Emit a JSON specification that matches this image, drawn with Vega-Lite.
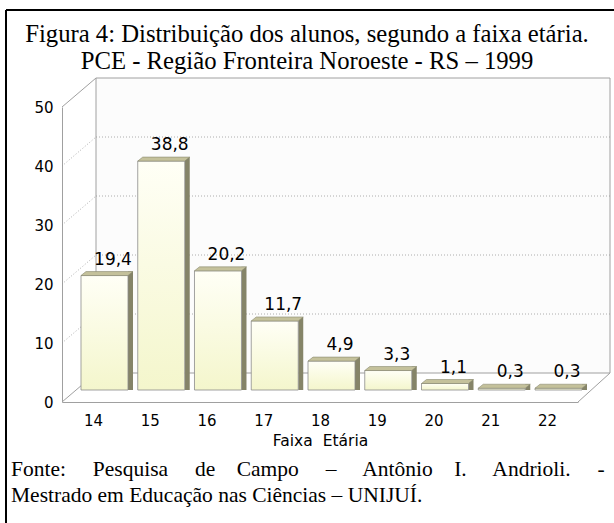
{
  "$schema": "https://vega.github.io/schema/vega-lite/v6.json",
  "autosize": {"type": "pad"},
  "padding": {"left": 5, "top": 9, "right": 0, "bottom": 0},
  "background": "white",
  "title": {
    "text": ["Figura 4: Distribuição dos alunos, segundo a faixa etária.", "PCE - Região Fronteira Noroeste - RS – 1999"],
    "font": "Liberation Serif", "fontSize": 24.7, "fontWeight": "normal", "color": "black",
    "lineHeight": 27, "anchor": "middle", "offset": -65, "dx": -3
  },
  "datasets": {
    "faixa": [
      {"idade": 14, "pct": 19.4}, {"idade": 15, "pct": 38.8}, {"idade": 16, "pct": 20.2},
      {"idade": 17, "pct": 11.7}, {"idade": 18, "pct": 4.9}, {"idade": 19, "pct": 3.3},
      {"idade": 20, "pct": 1.1}, {"idade": 21, "pct": 0.3}, {"idade": 22, "pct": 0.3}
    ],
    "grade": [{"v": 0}, {"v": 10}, {"v": 20}, {"v": 30}, {"v": 40}, {"v": 50}],
    "um": [{"k": 1}]
  },
  "vconcat": [
    {
      "width": 516,
      "height": 295,
      "title": {
        "text": ["Fonte:\u00a0\u00a0\u00a0\u00a0 Pesquisa\u00a0\u00a0\u00a0\u00a0 de\u00a0\u00a0\u00a0 Campo\u00a0\u00a0\u00a0\u00a0 –\u00a0\u00a0\u00a0\u00a0 Antônio\u00a0\u00a0\u00a0 I.\u00a0\u00a0\u00a0\u00a0 Andrioli.\u00a0\u00a0\u00a0\u00a0 -", "Mestrado em Educação nas Ciências – UNIJUÍ."],
        "orient": "bottom", "anchor": "start",
        "font": "Liberation Serif", "fontSize": 21.5, "fontWeight": "normal", "color": "black",
        "lineHeight": 26, "offset": -65, "dx": 6
      },
      "layer": [
        {
          "data": {"name": "um"},
          "mark": {"type": "rule", "stroke": "black", "strokeWidth": 2},
          "encoding": {
            "x": {"value": -56},
            "y": {"value": -97}, "y2": {"value": 416}
          }
        },
        {
          "data": {"name": "um"},
          "mark": {"type": "rule", "stroke": "black", "strokeWidth": 2},
          "encoding": {
            "x": {"value": -56}, "x2": {"value": 552},
            "y": {"value": -97}
          }
        },
        {
          "data": {"name": "um"},
          "mark": {"type": "rect", "fill": "#fcfcfc", "stroke": "#a0a0a0", "strokeWidth": 1,
                   "xOffset": 34, "x2Offset": 32, "yOffset": -29, "y2Offset": -29},
          "encoding": {
            "x": {"datum": 13.454, "type": "quantitative", "scale": {"domain": [13.454, 22.546], "nice": false, "zero": false, "padding": 0}, "title": "Faixa\u00a0 Etária"},
            "x2": {"datum": 22.546},
            "y": {"datum": 50, "type": "quantitative", "scale": {"domain": [0, 50], "nice": false, "padding": 0}, "title": null},
            "y2": {"datum": 0}
          }
        },
        {
          "data": {"name": "grade"},
          "transform": [{"filter": "datum.v > 0 && datum.v < 50"}],
          "mark": {"type": "rule", "color": "#9a9a9a", "strokeWidth": 0.8, "strokeDash": [1, 2],
                   "xOffset": 34, "x2Offset": 32, "yOffset": -29, "y2Offset": -29},
          "encoding": {
            "x": {"datum": 13.454, "type": "quantitative", "scale": {"domain": [13.454, 22.546], "nice": false, "zero": false, "padding": 0}, "title": "Faixa\u00a0 Etária"},
            "x2": {"datum": 22.546},
            "y": {"field": "v", "type": "quantitative", "scale": {"domain": [0, 50], "nice": false, "padding": 0}, "title": null},
            "y2": {"field": "v"}
          }
        },
        {
          "data": {"name": "grade"},
          "transform": [{"filter": "datum.v > 0 && datum.v < 50"}],
          "mark": {"type": "rule", "color": "#9a9a9a", "strokeWidth": 0.8, "strokeDash": [1, 2],
                   "x2Offset": 34, "y2Offset": -29},
          "encoding": {
            "x": {"datum": 13.454, "type": "quantitative", "scale": {"domain": [13.454, 22.546], "nice": false, "zero": false, "padding": 0}, "title": "Faixa\u00a0 Etária"},
            "x2": {"datum": 13.454},
            "y": {"field": "v", "type": "quantitative", "scale": {"domain": [0, 50], "nice": false, "padding": 0}, "title": null},
            "y2": {"field": "v"}
          }
        },
        {
          "data": {"name": "grade"},
          "transform": [{"filter": "datum.v == 0 || datum.v == 50"}],
          "mark": {"type": "rule", "color": "#a0a0a0", "strokeWidth": 1,
                   "x2Offset": 34, "y2Offset": -29},
          "encoding": {
            "x": {"datum": 13.454, "type": "quantitative", "scale": {"domain": [13.454, 22.546], "nice": false, "zero": false, "padding": 0}, "title": "Faixa\u00a0 Etária"},
            "x2": {"datum": 13.454},
            "y": {"field": "v", "type": "quantitative", "scale": {"domain": [0, 50], "nice": false, "padding": 0}, "title": null},
            "y2": {"field": "v"}
          }
        },
        {
          "data": {"name": "um"},
          "mark": {"type": "rule", "color": "#a0a0a0", "strokeWidth": 1,
                   "x2Offset": 32, "y2Offset": -29},
          "encoding": {
            "x": {"datum": 22.546, "type": "quantitative", "scale": {"domain": [13.454, 22.546], "nice": false, "zero": false, "padding": 0}, "title": "Faixa\u00a0 Etária"},
            "x2": {"datum": 22.546},
            "y": {"datum": 0, "type": "quantitative", "scale": {"domain": [0, 50], "nice": false, "padding": 0}, "title": null},
            "y2": {"datum": 0}
          }
        },
        {
          "data": {"name": "faixa"},
          "mark": {"type": "bar", "orient": "vertical", "width": 5, "fill": "#858468",
                   "xOffset": 37.5, "yOffset": -16, "y2Offset": -12},
          "encoding": {
            "x": {"field": "idade", "type": "quantitative", "scale": {"domain": [13.454, 22.546], "nice": false, "zero": false, "padding": 0}, "title": "Faixa\u00a0 Etária"},
            "y": {"field": "pct", "type": "quantitative", "scale": {"domain": [0, 50], "nice": false, "padding": 0}, "title": null},
            "y2": {"datum": 0}
          }
        },
        {
          "data": {"name": "faixa"},
          "mark": {"type": "bar", "orient": "vertical", "width": 47,
                   "fill": {"gradient": "linear", "x1": 0, "y1": 0, "x2": 0, "y2": 1,
                            "stops": [{"offset": 0, "color": "#fffff6"}, {"offset": 1, "color": "#f4f6cc"}]},
                   "stroke": "#8c8c8c", "strokeWidth": 0.8,
                   "xOffset": 11.5, "yOffset": -12, "y2Offset": -12},
          "encoding": {
            "x": {"field": "idade", "type": "quantitative", "scale": {"domain": [13.454, 22.546], "nice": false, "zero": false, "padding": 0}, "title": "Faixa\u00a0 Etária",
                  "axis": {"values": [14, 15, 16, 17, 18, 19, 20, 21, 22], "format": "d"}},
            "y": {"field": "pct", "type": "quantitative", "scale": {"domain": [0, 50], "nice": false, "padding": 0}, "title": null,
                  "axis": {"values": [0, 10, 20, 30, 40, 50], "format": "d"}},
            "y2": {"datum": 0}
          }
        },
        {
          "data": {"name": "faixa"},
          "mark": {"type": "point", "filled": true, "opacity": 1, "size": 2704,
                   "shape": "M-0.9038,0L0.9038,0L1.0962,-0.1538L-0.7115,-0.1538Z",
                   "fill": "#c4c19b", "stroke": "#8a8a70", "strokeWidth": 0.6,
                   "xOffset": 11.5, "yOffset": -12},
          "encoding": {
            "x": {"field": "idade", "type": "quantitative", "scale": {"domain": [13.454, 22.546], "nice": false, "zero": false, "padding": 0}, "title": "Faixa\u00a0 Etária"},
            "y": {"field": "pct", "type": "quantitative", "scale": {"domain": [0, 50], "nice": false, "padding": 0}, "title": null}
          }
        },
        {
          "data": {"name": "faixa"},
          "mark": {"type": "text", "font": "DejaVu Sans", "fontSize": 17, "color": "black",
                   "baseline": "middle", "align": "center", "xOffset": 20, "yOffset": -28},
          "encoding": {
            "x": {"field": "idade", "type": "quantitative", "scale": {"domain": [13.454, 22.546], "nice": false, "zero": false, "padding": 0}, "title": "Faixa\u00a0 Etária"},
            "y": {"field": "pct", "type": "quantitative", "scale": {"domain": [0, 50], "nice": false, "padding": 0}, "title": null},
            "text": {"field": "pct", "type": "quantitative", "format": ".1f"}
          }
        }
      ]
    }
  ],
  "config": {
    "view": {"stroke": null},
    "locale": {"number": {"decimal": ",", "thousands": ".", "grouping": [3], "currency": ["R$", ""]}},
    "axis": {
      "grid": false, "ticks": false, "domainColor": "#a0a0a0", "domainWidth": 1,
      "labelColor": "black", "labelFont": "DejaVu Sans", "labelFontSize": 15,
      "titleFont": "DejaVu Sans", "titleFontSize": 15.5, "titleFontWeight": "normal", "titleColor": "black"
    },
    "axisX": {"labelPadding": 11, "titlePadding": 5},
    "axisY": {"labelPadding": 9}
  }
}
